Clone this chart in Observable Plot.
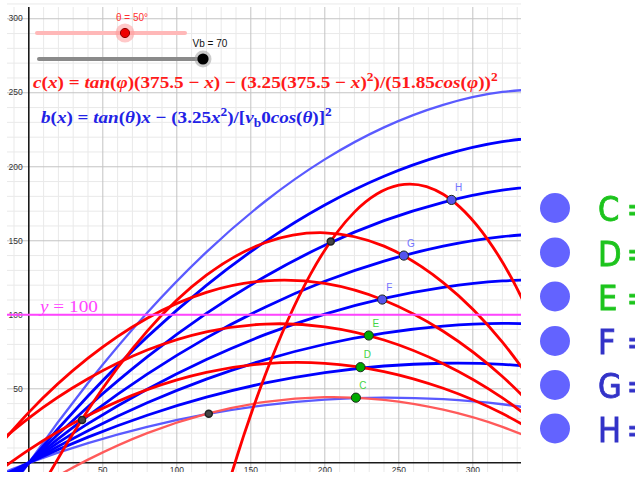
<!DOCTYPE html>
<html><head><meta charset="utf-8">
<script src="https://cdn.jsdelivr.net/npm/d3@7"></script>
<script src="https://cdn.jsdelivr.net/npm/@observablehq/plot@0.6"></script>
<style>
body{margin:0;background:#fff;}
#chart{position:relative;width:635px;height:484px;overflow:hidden;}
</style></head><body><div id="chart"></div>
<script>
// ---- axes / ticks ----
const xDomain = [-14.39, 332.9];
const yDomain = [-6.55, 307.6];
const xTicks = [50, 100, 150, 200, 250, 300];
const yTicks = [50, 100, 150, 200, 250, 300];
const minorX = [-10,10,20,30,40,60,70,80,90,110,120,130,140,160,170,180,190,210,220,230,240,260,270,280,290,310,320,330];
const minorY = [10,20,30,40,60,70,80,90,110,120,130,140,160,170,180,190,210,220,230,240,260,270,280,290,310];

// ---- blue trajectories b(x), Vb = 70, θ = 20°..55° ----
const blueX  = [-40, 0, 40, 80, 120, 160, 200, 240, 280, 320, 360];
const blue20 = [-15.76, 0, 13.36, 24.31, 32.86, 39.01, 42.75, 44.09, 43.02, 39.55, 33.68];
const blue25 = [-19.94, 0, 17.36, 32.14, 44.33, 53.94, 60.96, 65.40, 67.26, 66.53, 63.22];
const blue30 = [-24.51, 0, 21.68, 40.53, 56.55, 69.74, 80.10, 87.63, 92.32, 94.19, 93.24];
const blue35 = [-29.59, 0, 26.43, 49.69, 69.79, 86.73, 100.50, 111.12, 118.56, 122.85, 123.98];
const blue40 = [-35.37, 0, 31.76, 59.89, 84.42, 105.32, 122.61, 136.28, 146.33, 152.77, 155.59];
const blue45 = [-42.12, 0, 37.88, 71.51, 100.90, 126.04, 146.94, 163.59, 176.00, 184.17, 188.09];
const blue50 = [-50.24, 0, 45.10, 85.07, 119.89, 149.58, 174.14, 193.56, 207.83, 216.98, 220.98];
const blue55 = [-60.35, 0, 53.90, 101.35, 142.35, 176.89, 204.99, 226.63, 241.82, 250.56, 252.84];

// ---- red trajectories c(x), fired from x = 375.5 ----
const redX  = [-40, 0, 40, 80, 120, 160, 200, 240, 280, 320, 360];
const red60 = [-117.61, -33.16, 35.71, 89.01, 126.72, 148.85, 155.40, 146.37, 121.76, 81.57, 25.80];
const red50 = [-12.16, 34.06, 70.69, 97.71, 115.14, 122.97, 121.20, 109.83, 88.86, 58.30, 18.14];
const red42 = [-3.34, 30.25, 56.76, 76.18, 88.51, 93.75, 91.90, 82.96, 66.93, 43.82, 13.61];
const red35 = [-20.25, 8.73, 31.94, 49.41, 61.11, 67.06, 67.24, 61.67, 50.34, 33.25, 10.40];
const red28 = [-48.53, -20.73, 2.14, 20.08, 33.10, 41.18, 44.34, 42.58, 35.89, 24.28, 7.73];
const red73X = [100, 130, 160, 190, 220, 250, 280, 310, 340, 370];
const red73  = [-146.64, -31.16, 60.00, 126.83, 169.35, 187.55, 181.43, 150.98, 96.22, 17.14];

// ---- intersection points ----
const pointNames = ["C", "D", "E", "F", "G", "H"];
const pointX = [221, 224.1, 229.7, 238.8, 253.4, 285.6];
const pointY = [44, 64.6, 86, 110.3, 140, 177.6];
const auxX = [36, 121.6, 204];
const auxY = [29, 33.2, 149.5];

// ---- sliders / legend values ----
const thetaValue = 50;
const vbValue = 70;
const limitY = 100;

// build tables
const blueSeries = [
  {name: "b20", ys: blue20, light: true},
  {name: "b25", ys: blue25}, {name: "b30", ys: blue30}, {name: "b35", ys: blue35},
  {name: "b40", ys: blue40}, {name: "b45", ys: blue45}, {name: "b50", ys: blue50},
  {name: "b55", ys: blue55, light: true}
];
const redSeries = [
  {name: "r73", xs: red73X, ys: red73}, {name: "r60", xs: redX, ys: red60},
  {name: "r50", xs: redX, ys: red50}, {name: "r42", xs: redX, ys: red42},
  {name: "r35", xs: redX, ys: red35}, {name: "r28", xs: redX, ys: red28, light: true}
];
const blueRows = blueSeries.flatMap(s => blueX.map((x, i) => ({name: s.name, x, y: s.ys[i], light: !!s.light})));
const redRows = redSeries.flatMap(s => s.xs.map((x, i) => ({name: s.name, x, y: s.ys[i], light: !!s.light})));
const points = pointNames.map((n, i) => ({name: n, x: pointX[i], y: pointY[i], green: i < 3}));
const aux = auxX.map((x, i) => ({x, y: auxY[i]}));

const plot = Plot.plot({
  width: 635, height: 484,
  marginLeft: 7, marginRight: 114, marginTop: 7, marginBottom: 12,
  x: {domain: xDomain, axis: null},
  y: {domain: yDomain, axis: null},
  style: {background: "white", fontFamily: "'Liberation Sans', Arial, sans-serif"},
  marks: [
    Plot.ruleX(minorX, {stroke: "#e9e9e9", strokeWidth: 1}),
    Plot.ruleY(minorY, {stroke: "#e9e9e9", strokeWidth: 1}),
    Plot.ruleX(xTicks, {stroke: "#c4c4c4", strokeWidth: 1}),
    Plot.ruleY(yTicks, {stroke: "#c4c4c4", strokeWidth: 1}),
    Plot.ruleX([0], {stroke: "#1a1a1a", strokeWidth: 1.6}),
    Plot.ruleY([0], {stroke: "#1a1a1a", strokeWidth: 1.6}),
    Plot.text(yTicks, {x: 0, y: d => d, text: d => `${d}`, textAnchor: "end", dx: -6, fontSize: 8.5, fill: "#333"}),
    Plot.text(xTicks, {x: d => d, y: 0, text: d => `${d}`, lineAnchor: "top", dy: 4, fontSize: 8.5, fill: "#333", clip: true}),
    Plot.line(blueRows.filter(d => d.light), {x: "x", y: "y", z: "name", stroke: "#5a5aff", strokeWidth: 2.3, curve: "natural", clip: true}),
    Plot.line(blueRows.filter(d => !d.light), {x: "x", y: "y", z: "name", stroke: "#0000ff", strokeWidth: 2.8, curve: "natural", clip: true}),
    Plot.line(redRows.filter(d => d.light), {x: "x", y: "y", z: "name", stroke: "#ff5a5a", strokeWidth: 2.3, curve: "natural", clip: true}),
    Plot.line(redRows.filter(d => !d.light), {x: "x", y: "y", z: "name", stroke: "#ff0000", strokeWidth: 2.8, curve: "natural", clip: true}),
    Plot.ruleY([limitY], {stroke: "#ff44ff", strokeWidth: 2}),
    Plot.dot(aux, {x: "x", y: "y", r: 3.5, fill: "#454545", stroke: "#222"}),
    Plot.dot(points, {x: "x", y: "y", r: 4.6, fill: d => d.green ? "#00aa00" : "#5555ee", stroke: "#1e2a1e", strokeWidth: 1}),
    Plot.text(points, {x: "x", y: "y", text: "name", dx: 7, dy: -12, fontSize: 10, fill: d => d.green ? "#44d444" : "#7373ff"})
  ]
});
document.getElementById("chart").appendChild(plot);

const svg = d3.select(plot);
const sx = plot.scale("x"), sy = plot.scale("y");
const g = svg.append("g").attr("text-anchor", "start");
const serif = "'Liberation Serif', 'Times New Roman', serif";

function richText(x, y, segs, size, fill, width, bold = true) {
  const t = g.append("text").attr("x", 0).attr("y", 0).attr("text-anchor", "start")
    .attr("font-family", serif).attr("font-weight", bold ? "bold" : "normal")
    .attr("font-size", size).attr("fill", fill);
  let shift = 0;
  for (const [s, k] of segs) {
    const target = k === "sup" ? -size * 0.42 : k === "sub" ? size * 0.25 : 0;
    const ts = t.append("tspan").text(s);
    if (target - shift !== 0) ts.attr("dy", target - shift);
    shift = target;
    if (k === "i") ts.attr("font-style", "italic");
    if (k === "sup" || k === "sub") ts.attr("font-size", size * 0.7);
  }
  const w = t.node().getComputedTextLength() || width;
  const k = width / w;
  t.attr("transform", `translate(${x},${y}) scale(${k},1)`);
}

// formulas
richText(33, 88, [["c","i"],["(","n"],["x","i"],[") = ","n"],["tan","i"],["(","n"],["φ","i"],[")(375.5 − ","n"],["x","i"],[") − (3.25(375.5 − ","n"],["x","i"],[")","n"],["2","sup"],[")/(51.85","n"],["cos","i"],["(","n"],["φ","i"],["))","n"],["2","sup"]], 17, "#ff1a1a", 465);
richText(41, 123, [["b","i"],["(","n"],["x","i"],[") = ","n"],["tan","i"],["(","n"],["θ","i"],[")","n"],["x","i"],[" − (3.25","n"],["x","i"],["2","sup"],[")/[","n"],["v","i"],["b","sub"],["0","n"],["cos","i"],["(","n"],["θ","i"],[")]","n"],["2","sup"]], 17, "#2222e6", 291);

// y = 100 label
richText(sx.apply(xDomain[0]) + 33, sy.apply(limitY) - 2.5, [["y","i"],[" = 100","n"]], 17, "#ff44ff", 58, false);

// sliders
const sans = "'Liberation Sans', Arial, sans-serif";
g.append("line").attr("x1", 37).attr("x2", 185).attr("y1", 33).attr("y2", 33)
  .attr("stroke", "#ffb8b8").attr("stroke-width", 4).attr("stroke-linecap", "round");
g.append("circle").attr("cx", 125).attr("cy", 33).attr("r", 9.5).attr("fill", "#ff9a9a").attr("opacity", 0.55);
g.append("circle").attr("cx", 125).attr("cy", 33).attr("r", 4.6).attr("fill", "#ee0000").attr("stroke", "#8a0000").attr("stroke-width", 1);
g.append("text").attr("x", 132).attr("y", 21).attr("text-anchor", "middle").attr("font-family", sans)
  .attr("font-size", 10).attr("fill", "#ff3030").text(`θ = ${thetaValue}°`);

g.append("line").attr("x1", 39).attr("x2", 203).attr("y1", 59).attr("y2", 59)
  .attr("stroke", "#8a8a8a").attr("stroke-width", 4).attr("stroke-linecap", "round");
g.append("circle").attr("cx", 203).attr("cy", 59).attr("r", 8.5).attr("fill", "#9a9a9a").attr("opacity", 0.5);
g.append("circle").attr("cx", 203).attr("cy", 59).attr("r", 5.6).attr("fill", "#000");
g.append("text").attr("x", 210).attr("y", 46.5).attr("text-anchor", "middle").attr("font-family", sans)
  .attr("font-size", 10).attr("fill", "#111").text(`Vb = ${vbValue}`);

// right-side algebra items
const defs = svg.append("defs");
defs.append("filter").attr("id", "soft").append("feGaussianBlur").attr("stdDeviation", 0.6);
const rowY = [208, 252.5, 296.5, 341, 385, 428.5];
const condensed = "'DejaVu Sans Condensed', 'DejaVu Sans', sans-serif";
pointNames.forEach((n, i) => {
  const cy = rowY[i];
  const col = i < 3 ? "#1cc41c" : "#3232c8";
  g.append("circle").attr("cx", 555).attr("cy", cy).attr("r", 15).attr("fill", "#6464ff").attr("filter", "url(#soft)");
  g.append("text").attr("x", 598).attr("y", cy + 13).attr("text-anchor", "start").attr("font-family", condensed)
    .attr("font-size", 34).attr("fill", col).attr("stroke", col).attr("stroke-width", 0.8).attr("filter", "url(#soft)").text(n);
  g.append("text").attr("x", 626.5).attr("y", cy + 13).attr("text-anchor", "start").attr("font-family", condensed)
    .attr("font-size", 34).attr("fill", col).attr("stroke", col).attr("stroke-width", 0.8).attr("filter", "url(#soft)").text("=");
});
</script></body></html>
